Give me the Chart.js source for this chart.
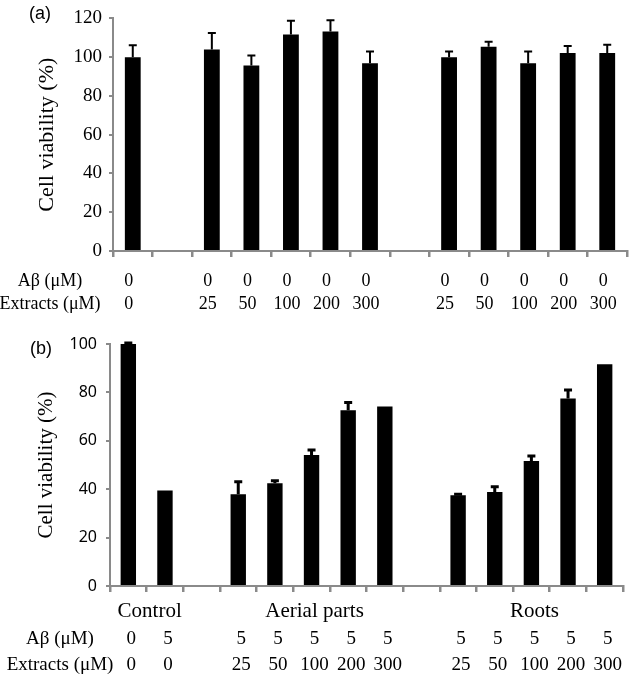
<!DOCTYPE html>
<html>
<head>
<meta charset="utf-8">
<script src="https://cdn.jsdelivr.net/npm/chart.js@4.4.1/dist/chart.umd.min.js"></script>
<style>
  body { margin: 0; background: #fff; }
  canvas { position: absolute; left: 0; }
  #chartA { top: 0; }
  #chartB { top: 320px; }
</style>
</head>
<body>
<canvas id="chartA" width="630" height="320"></canvas>
<canvas id="chartB" width="630" height="357"></canvas>
<script>
// panel (a): extracts alone, no A-beta
const categoriesA = ['Control', 'gap1', 'Aerial 25', 'Aerial 50', 'Aerial 100', 'Aerial 200', 'Aerial 300',
                     'gap2', 'Roots 25', 'Roots 50', 'Roots 100', 'Roots 200', 'Roots 300'];
const viabilityA = [100, null, 104, 95.7, 111.7, 113.2, 96.9, null, 99.9, 105.4, 96.9, 102.1, 102.1];
const errorA     = [6.2, 0, 8.5, 5.2, 7.1, 5.8, 6.0, 0, 3.0, 2.5, 6.0, 3.6, 4.3];
const abetaA     = ['0', '', '0', '0', '0', '0', '0', '', '0', '0', '0', '0', '0'];
const extractA   = ['0', '', '25', '50', '100', '200', '300', '', '25', '50', '100', '200', '300'];

// panel (b): extracts with 5 uM A-beta
const categoriesB = ['Control 0', 'Control 5', 'gap1', 'Aerial 25', 'Aerial 50', 'Aerial 100', 'Aerial 200', 'Aerial 300',
                     'gap2', 'Roots 25', 'Roots 50', 'Roots 100', 'Roots 200', 'Roots 300'];
const viabilityB = [100, 39.5, null, 37.9, 42.5, 54.1, 72.6, 74.2, null, 37.5, 38.8, 51.7, 77.5, 91.6];
const errorB     = [0.4, 0, 0, 5.2, 1.0, 2.1, 3.2, 0, 0, 0.4, 2.2, 2.0, 3.5, 0];
const abetaB     = ['0', '5', '', '5', '5', '5', '5', '5', '', '5', '5', '5', '5', '5'];
const extractB   = ['0', '0', '', '25', '50', '100', '200', '300', '', '25', '50', '100', '200', '300'];
const groupsB    = [['Control', 0, 1], ['Aerial parts', 3, 7], ['Roots', 9, 13]];

const axisGray = '#8a8a8a';
const serif = '"Liberation Serif", "Times New Roman", serif';

const errorBars = {
  id: 'errorBars',
  afterDatasetsDraw(chart, args, opts) {
    const ctx = chart.ctx;
    const meta = chart.getDatasetMeta(0);
    const y = chart.scales.y;
    const values = chart.data.datasets[0].data;
    ctx.save();
    ctx.strokeStyle = '#000';
    ctx.lineWidth = opts.width;
    opts.errors.forEach(function(e, i) {
      if (values[i] == null || !e) return;
      const bar = meta.data[i];
      const top = y.getPixelForValue(values[i] + e);
      ctx.beginPath();
      ctx.moveTo(bar.x, bar.y);
      ctx.lineTo(bar.x, top);
      ctx.moveTo(bar.x - opts.cap, top);
      ctx.lineTo(bar.x + opts.cap, top);
      ctx.stroke();
    });
    ctx.restore();
  }
};

const rowLabels = {
  id: 'rowLabels',
  afterDraw(chart, args, opts) {
    const ctx = chart.ctx;
    const x = chart.scales.x;
    ctx.save();
    ctx.fillStyle = '#000';
    ctx.textBaseline = 'middle';
    opts.rows.forEach(function(row) {
      ctx.font = opts.size + 'px ' + serif;
      ctx.textAlign = 'center';
      ctx.fillText(row.title, opts.titleX, row.y);
      row.values.forEach(function(v, i) {
        if (v) ctx.fillText(v, x.getPixelForValue(i) + opts.shift, row.y);
      });
    });
    if (opts.groups) {
      ctx.font = opts.groupSize + 'px ' + serif;
      opts.groups.forEach(function(g) {
        const cx = (x.getPixelForValue(g[1]) + x.getPixelForValue(g[2])) / 2;
        ctx.fillText(g[0], cx + opts.shift, opts.groupY);
      });
    }
    ctx.font = '18px "Liberation Sans", Arial, sans-serif';
    ctx.textAlign = 'left';
    ctx.fillText(opts.panel, opts.panelX, opts.panelY);
    ctx.restore();
  }
};

function make_panel(canvas_id, cats, values, errors, cfg) {
  return new Chart(document.getElementById(canvas_id), {
    type: 'bar',
    data: {
      labels: cats,
      datasets: [{
        data: values,
        backgroundColor: '#000',
        borderWidth: 0,
        barPercentage: cfg.barPct,
        categoryPercentage: 1
      }]
    },
    options: {
      responsive: false,
      animation: false,
      layout: { padding: cfg.padding },
      plugins: {
        legend: { display: false },
        tooltip: { enabled: false },
        errorBars: { errors: errors, width: cfg.errWidth, cap: 4 },
        rowLabels: cfg.labels
      },
      scales: {
        x: {
          offset: true,
          ticks: { display: false },
          grid: { offset: true, drawOnChartArea: false, tickLength: 6, color: axisGray, lineWidth: 2.5 },
          border: { color: axisGray, width: 2 },
          afterFit: function(s) { s.height = 8; }
        },
        y: {
          min: 0,
          max: cfg.max,
          ticks: { stepSize: 20, color: '#000', font: cfg.tickFont, padding: cfg.tickPad },
          grid: { drawOnChartArea: false, tickLength: 4, color: axisGray, lineWidth: 2 },
          border: { color: axisGray, width: 2 },
          title: {
            display: true,
            text: 'Cell viability (%)',
            color: '#000',
            font: { family: serif, size: cfg.titleSize },
            padding: { top: cfg.titlePad, bottom: 0 }
          },
          afterFit: function(s) { s.width = cfg.axisLeft; }
        }
      }
    },
    plugins: [errorBars, rowLabels]
  });
}

make_panel('chartA', categoriesA, viabilityA, errorA, {
  barPct: 0.4, max: 120, errWidth: 2, axisLeft: 113,
  padding: { top: 10, right: 3, bottom: 61, left: 0 },
  tickFont: { family: serif, size: 19 }, tickPad: 7,
  titleSize: 22, titlePad: 34,
  labels: {
    size: 18, titleX: 50, shift: -4,
    rows: [{ title: 'A\u03b2 (\u03bcM)', values: abetaA, y: 281 },
           { title: 'Extracts (\u03bcM)', values: extractA, y: 304 }],
    panel: '(a)', panelX: 29, panelY: 14
  }
});

make_panel('chartB', categoriesB, viabilityB, errorB, {
  barPct: 0.42, max: 100, errWidth: 3, axisLeft: 110,
  padding: { top: 24, right: 7, bottom: 83, left: 0 },
  tickFont: { family: '"Noto Sans", sans-serif', size: 16 }, tickPad: 9,
  titleSize: 21, titlePad: 34,
  labels: {
    size: 19, titleX: 60, shift: 3,
    rows: [{ title: 'A\u03b2 (\u03bcM)', values: abetaB, y: 319 },
           { title: 'Extracts (\u03bcM)', values: extractB, y: 345 }],
    groups: groupsB, groupSize: 21, groupY: 291,
    panel: '(b)', panelX: 30, panelY: 29
  }
});
</script>
</body>
</html>
